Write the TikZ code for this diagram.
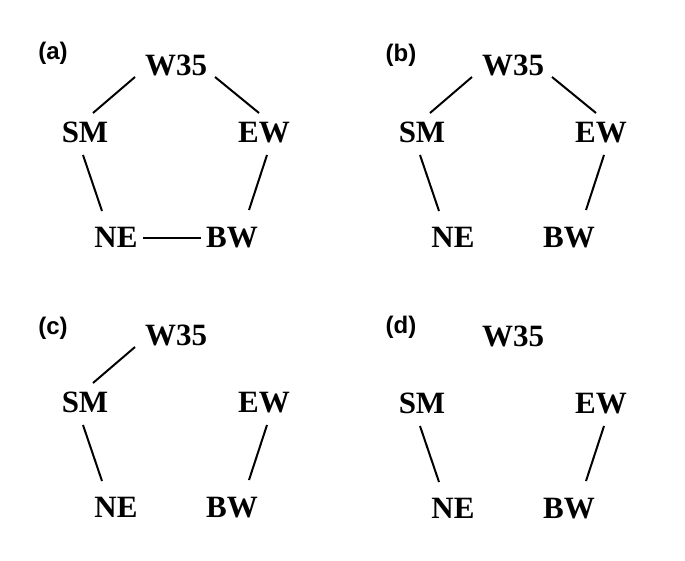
\documentclass[tikz,border=0pt]{standalone}
\usepackage{fontspec}
\setmainfont{Liberation Serif}
\newfontfamily\labfont{Liberation Sans}
\usetikzlibrary{calc}
% node set of one panel: #1 prefix, #2 dx, #3 dy
\newcommand\drawsites[3]{%
  \node[site] (#1w) at (176+#2,65+#3) {W35};
  \node[site] (#1s) at (85+#2,132+#3) {SM};
  \node[site] (#1e) at (264+#2,132+#3) {EW};
  \node[site] (#1n) at (116+#2,237+#3) {NE};
  \node[site] (#1b) at (232+#2,237+#3) {BW};
}
\newcommand\linkWS[1]{\draw[link] ($(#1w)+(-41,12)$) -- ($(#1s)+(8,-19)$);}
\newcommand\linkWE[1]{\draw[link] ($(#1w)+(39,12)$) -- ($(#1e)+(-5,-19)$);}
\newcommand\linkSN[1]{\draw[link] ($(#1s)+(-2,23)$) -- ($(#1n)+(-14,-26)$);}
\newcommand\linkEB[1]{\draw[link] ($(#1e)+(3,23)$) -- ($(#1b)+(17,-27)$);}
\newcommand\linkNB[1]{\draw[link] ($(#1n)+(27,1)$) -- ($(#1b)+(-31,1)$);}
\begin{document}
\begin{tikzpicture}[x=1pt,y=-1pt,
  site/.style={font=\bfseries\fontsize{31}{31}\selectfont, inner sep=0pt,
    text height=20.5pt, text depth=0pt},
  panel/.style={font=\labfont\bfseries\fontsize{24}{24}\selectfont, inner sep=0pt},
  link/.style={line width=2pt}]
\useasboundingbox (0,0) rectangle (685,561);
\fill[white] (0,0) rectangle (685,561);
% panel (a)
\node[panel] (la) at (53,53) {(a)};
\drawsites{a}{0}{0}
\linkWS{a}\linkWE{a}\linkSN{a}\linkEB{a}\linkNB{a}
% panel (b)
\node[panel] (lb) at (401,55) {(b)};
\drawsites{b}{337}{0}
\linkWS{b}\linkWE{b}\linkSN{b}\linkEB{b}
% panel (c)
\node[panel] (lc) at (53,328) {(c)};
\drawsites{c}{0}{270}
\linkWS{c}\linkSN{c}\linkEB{c}
% panel (d)
\node[panel] (ld) at (401,327) {(d)};
\drawsites{d}{337}{271}
\linkSN{d}\linkEB{d}
\end{tikzpicture}
\end{document}
